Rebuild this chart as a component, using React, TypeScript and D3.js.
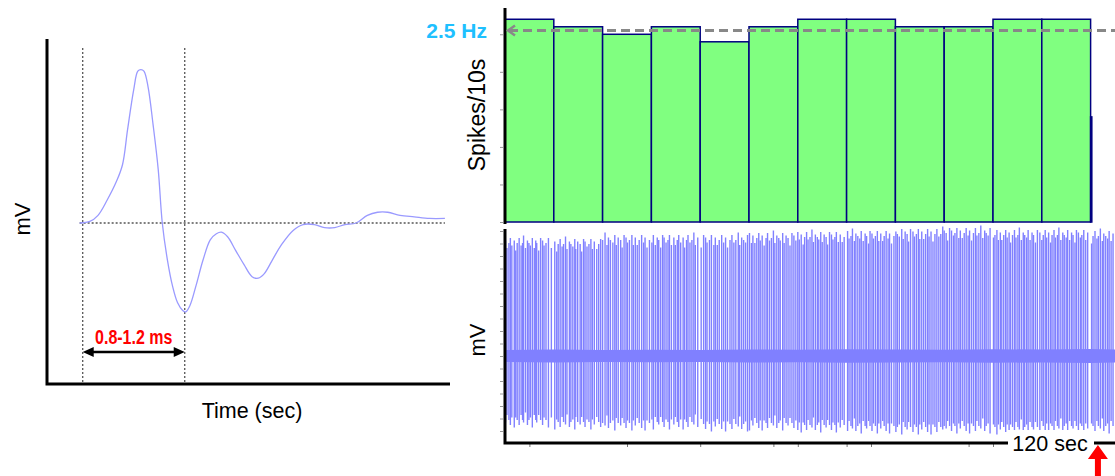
import React, { useEffect, useRef } from "react";
import * as d3 from "d3";

const W = 1115;
const H = 476;
const FONT = "'Liberation Sans', Arial, sans-serif";

// single extracellular spike waveform (time in ms, amplitude in mV)
const waveTime = [-0.03, 0.07, 0.15, 0.24, 0.33, 0.39, 0.44, 0.5, 0.54, 0.57, 0.6, 0.64, 0.69, 0.74, 0.78, 0.83, 0.88, 0.93, 0.98, 1.01, 1.05, 1.11, 1.18, 1.25, 1.31, 1.36, 1.42, 1.5, 1.58, 1.66, 1.72, 1.78, 1.86, 1.95, 2.06, 2.16, 2.27, 2.37, 2.47, 2.57, 2.68, 2.79, 2.89, 2.99, 3.11, 3.25, 3.4, 3.55];
const waveMv = [0, 0.01, 0.05, 0.15, 0.27, 0.38, 0.61, 0.87, 0.99, 1.0, 0.99, 0.89, 0.64, 0.35, 0, -0.24, -0.41, -0.52, -0.57, -0.58, -0.54, -0.41, -0.24, -0.11, -0.07, -0.06, -0.09, -0.18, -0.27, -0.35, -0.36, -0.33, -0.24, -0.14, -0.05, -0.01, -0.01, -0.03, -0.03, -0.01, 0, 0.05, 0.07, 0.07, 0.05, 0.04, 0.03, 0.03];
const widthMarks = [0, 1.0]; // ms, the "0.8-1.2 ms" bracket

// spike counts per 10 s bin (last bin is the partial one at 120 s)
const binStarts = [0, 10, 20, 30, 40, 50, 60, 70, 80, 90, 100, 110, 120];
const binWidths = [10, 10, 10, 10, 10, 10, 10, 10, 10, 10, 10, 10, 0.25];
const binCounts = [27, 26, 25, 26, 24, 26, 27, 27, 26, 26, 27, 27, 14];
const rateLine = 25.5;

// spike times inside each bin (s from bin start)
const spikeTimes = [
  [0.1, 0.4, 0.8, 1.1, 1.4, 1.9, 2.2, 2.5, 2.9, 3.3, 3.6, 3.8, 4.2, 4.6, 4.9, 5.2, 5.6, 6.0, 6.3, 6.5, 6.9, 7.3, 7.7, 8.0, 8.4, 8.9, 9.5],
  [0.2, 0.6, 0.9, 1.3, 1.7, 2.0, 2.4, 2.7, 3.2, 3.5, 3.9, 4.3, 4.5, 4.9, 5.4, 5.7, 6.1, 6.4, 6.8, 7.2, 7.6, 7.9, 8.3, 8.8, 9.2, 9.6],
  [0.0, 0.5, 0.9, 1.2, 1.6, 2.1, 2.5, 2.8, 3.2, 3.7, 4.0, 4.4, 4.8, 5.1, 5.5, 6.0, 6.3, 6.7, 7.1, 7.5, 8.0, 8.4, 8.7, 9.1, 9.6],
  [0.1, 0.4, 0.8, 1.2, 1.5, 1.9, 2.3, 2.6, 3.0, 3.4, 3.7, 4.1, 4.6, 4.9, 5.3, 5.6, 6.0, 6.5, 6.8, 7.2, 7.5, 7.9, 8.3, 8.7, 9.0, 9.5],
  [0.2, 0.7, 1.1, 1.4, 1.9, 2.3, 2.8, 3.1, 3.5, 3.9, 4.4, 4.8, 5.2, 5.6, 6.1, 6.5, 6.9, 7.3, 7.8, 8.1, 8.5, 8.9, 9.3, 9.7],
  [0.1, 0.5, 0.8, 1.2, 1.6, 2.0, 2.3, 2.7, 3.1, 3.5, 3.8, 4.2, 4.6, 5.0, 5.3, 5.7, 6.1, 6.4, 6.9, 7.2, 7.6, 8.0, 8.4, 8.8, 9.2, 9.6],
  [0.0, 0.3, 0.7, 1.1, 1.4, 1.8, 2.1, 2.5, 2.9, 3.2, 3.6, 4.0, 4.3, 4.7, 5.0, 5.4, 5.8, 6.1, 6.5, 6.9, 7.2, 7.6, 7.9, 8.3, 8.7, 9.1, 9.5],
  [0.2, 0.5, 0.9, 1.2, 1.6, 1.9, 2.3, 2.7, 3.0, 3.4, 3.8, 4.1, 4.5, 4.8, 5.2, 5.5, 5.9, 6.3, 6.6, 7.0, 7.4, 7.7, 8.1, 8.5, 8.8, 9.2, 9.7],
  [0.1, 0.4, 0.8, 1.3, 1.6, 2.0, 2.4, 2.7, 3.1, 3.6, 3.9, 4.3, 4.7, 5.0, 5.4, 5.8, 6.2, 6.6, 6.9, 7.3, 7.7, 8.1, 8.5, 8.9, 9.3, 9.7],
  [0.0, 0.4, 0.7, 1.1, 1.5, 1.9, 2.2, 2.6, 3.0, 3.3, 3.7, 4.1, 4.5, 4.9, 5.2, 5.6, 6.0, 6.4, 6.7, 7.1, 7.5, 7.9, 8.3, 8.6, 9.0, 9.4],
  [0.1, 0.4, 0.8, 1.1, 1.5, 1.8, 2.2, 2.6, 2.9, 3.3, 3.6, 4.0, 4.4, 4.7, 5.1, 5.4, 5.8, 6.2, 6.5, 6.9, 7.2, 7.6, 8.0, 8.3, 8.7, 9.1, 9.6],
  [0.0, 0.3, 0.7, 1.0, 1.4, 1.8, 2.1, 2.5, 2.8, 3.2, 3.5, 3.9, 4.3, 4.6, 5.0, 5.3, 5.7, 6.1, 6.4, 6.8, 7.1, 7.5, 7.9, 8.2, 8.6, 9.0, 9.4],
  [0.2, 0.5, 0.9, 1.3, 1.6, 2.0, 2.4, 2.7, 3.1, 3.5, 3.8, 4.2, 4.6],
];
// typical peak / trough per bin (mV)
const spikeUp = [0.452, 0.448, 0.464, 0.464, 0.464, 0.472, 0.476, 0.48, 0.488, 0.492, 0.484, 0.484, 0.48];
const spikeDown = [-0.256, -0.264, -0.268, -0.264, -0.272, -0.268, -0.276, -0.28, -0.284, -0.28, -0.284, -0.28, -0.28];
const upJitter = [0.01, -0.02, 0.0, 0.02, -0.01, 0.01, -0.03, 0.0, 0.02, -0.01, 0.0, 0.03, -0.02, 0.01, 0.0, -0.01, 0.02, -0.02, 0.01, 0.0, -0.03, 0.02, 0.01, -0.01, 0.0, 0.02, -0.02];
const downJitter = [-0.01, 0.02, 0.0, -0.02, 0.01, -0.03, 0.01, 0.0, -0.02, 0.02, 0.0, -0.01, 0.03, -0.02, 0.0, 0.01, -0.03, 0.02, 0.0, -0.01, 0.02, 0.0, -0.02, 0.01, 0.0, -0.03, 0.01];

// baseline noise half-width (mV)
const noiseTime = [0, 10, 20, 30, 40, 50, 60, 70, 80, 90, 100, 110, 120, 125];
const noiseHalf = [0.024, 0.026, 0.024, 0.025, 0.024, 0.026, 0.025, 0.027, 0.026, 0.025, 0.027, 0.026, 0.028, 0.026];

const xTicks = [5, 25, 40, 55, 60, 70, 75, 95, 100];
const endLabel = "120 sec";
const endTime = 121.5;

function App() {
  const svgRef = useRef<SVGSVGElement | null>(null);

  useEffect(() => {
    const svg = d3.select(svgRef.current);
    svg.selectAll("*").remove();

    // ---------- left: spike waveform ----------
    const xW = d3.scaleLinear().domain([-0.35, 3.6]).range([47, 450]);
    const yW = d3.scaleLinear().domain([-1.05, 1.2]).range([384, 39]);
    const left = svg.append("g");

    widthMarks.forEach(t => {
      left.append("line")
        .attr("x1", xW(t)).attr("x2", xW(t))
        .attr("y1", 48).attr("y2", 384)
        .attr("stroke", "#555").attr("stroke-width", 1.3)
        .attr("stroke-dasharray", "2,2");
    });
    left.append("line")
      .attr("x1", xW(-0.03)).attr("x2", xW(3.55))
      .attr("y1", yW(0)).attr("y2", yW(0))
      .attr("stroke", "#555").attr("stroke-width", 1.3)
      .attr("stroke-dasharray", "2,2");

    const wave = d3.line<number>()
      .x((d, i) => xW(waveTime[i]))
      .y(d => yW(d))
      .curve(d3.curveCatmullRom.alpha(0.5));
    left.append("path")
      .attr("d", wave(waveMv))
      .attr("fill", "none")
      .attr("stroke", "#9a9aff")
      .attr("stroke-width", 1.3);

    left.append("path")
      .attr("d", `M47,39V384H450`)
      .attr("fill", "none").attr("stroke", "#000").attr("stroke-width", 3);

    // width bracket
    const ax0 = xW(widthMarks[0]), ax1 = xW(widthMarks[1]), ay = 352;
    left.append("line")
      .attr("x1", ax0 + 6).attr("x2", ax1 - 6).attr("y1", ay).attr("y2", ay)
      .attr("stroke", "#000").attr("stroke-width", 2.5);
    left.append("path")
      .attr("d", `M${ax0},${ay}l11,-5v10z M${ax1},${ay}l-11,-5v10z`)
      .attr("fill", "#000");
    left.append("text")
      .attr("transform", `translate(${(ax0 + ax1) / 2},344) scale(0.82,1)`)
      .attr("text-anchor", "middle")
      .attr("font-family", FONT)
      .attr("font-weight", "bold").attr("font-size", 19.5)
      .attr("fill", "#ff0000")
      .text("0.8-1.2 ms");

    left.append("text")
      .attr("transform", "translate(30,219) rotate(-90)")
      .attr("text-anchor", "middle")
      .attr("font-family", FONT).attr("font-size", 22)
      .text("mV");
    left.append("text")
      .attr("x", 252).attr("y", 418)
      .attr("text-anchor", "middle")
      .attr("font-family", FONT).attr("font-size", 21.5)
      .text("Time (sec)");

    // ---------- right top: spikes per 10 s ----------
    const xT = d3.scaleLinear().domain([0, 125]).range([505, 1115]);
    const yTop = d3.scaleLinear().domain([0, 28.5]).range([222, 8]);
    const top = svg.append("g");

    top.selectAll("rect.bar")
      .data(binCounts)
      .enter()
      .append("rect")
      .attr("class", "bar")
      .attr("x", (d, i) => xT(binStarts[i]))
      .attr("y", d => yTop(d))
      .attr("width", (d, i) => xT(binStarts[i] + binWidths[i]) - xT(binStarts[i]))
      .attr("height", d => yTop(0) - yTop(d))
      .attr("fill", "#80ff80")
      .attr("stroke", "#000080")
      .attr("stroke-width", 1.5);

    const yTopAxis = d3.axisLeft(yTop).ticks(8).tickSize(3).tickFormat(() => "");
    const gyt = top.append("g").attr("transform", "translate(503,0)").call(yTopAxis);
    gyt.select(".domain").remove();
    gyt.selectAll("line").attr("stroke", "#999");
    top.append("line")
      .attr("x1", 505).attr("x2", 505).attr("y1", 8).attr("y2", 224)
      .attr("stroke", "#000").attr("stroke-width", 3);

    const ry = yTop(rateLine);
    top.append("line")
      .attr("x1", 509).attr("x2", 1115).attr("y1", ry).attr("y2", ry)
      .attr("stroke", "#888").attr("stroke-width", 3)
      .attr("stroke-dasharray", "9,5");
    top.append("path")
      .attr("d", `M515,${ry - 5}L508,${ry}L515,${ry + 5}`)
      .attr("fill", "none").attr("stroke", "#888").attr("stroke-width", 2.5);
    top.append("text")
      .attr("x", 487).attr("y", ry + 7.5)
      .attr("text-anchor", "end")
      .attr("font-family", FONT).attr("font-weight", "bold").attr("font-size", 21)
      .attr("fill", "#1ec0ff")
      .text("2.5 Hz");
    top.append("text")
      .attr("transform", "translate(485,115) rotate(-90)")
      .attr("text-anchor", "middle")
      .attr("font-family", FONT).attr("font-size", 23)
      .text("Spikes/10s");

    // ---------- right bottom: raw trace ----------
    const yBot = d3.scaleLinear().domain([-0.348, 0.52]).range([443, 226]);
    const bot = svg.append("g");

    const noise = d3.area<number>()
      .x((d, i) => xT(noiseTime[i]))
      .y0(d => yBot(-d))
      .y1(d => yBot(d));
    bot.append("path")
      .attr("d", noise(noiseHalf))
      .attr("fill", "#8080ff");

    const spikes: { t: number; up: number; down: number }[] = [];
    spikeTimes.forEach((bin, b) => {
      bin.forEach((s, i) => {
        const j = (i + b * 5) % upJitter.length;
        spikes.push({
          t: binStarts[b] + s,
          up: spikeUp[b] + upJitter[j],
          down: spikeDown[b] + downJitter[j],
        });
      });
    });
    bot.selectAll("line.spike")
      .data(spikes)
      .enter()
      .append("line")
      .attr("class", "spike")
      .attr("x1", d => xT(d.t)).attr("x2", d => xT(d.t))
      .attr("y1", d => yBot(d.up)).attr("y2", d => yBot(d.down))
      .attr("stroke", "#8080ff")
      .attr("stroke-width", 1.4);

    const yBotAxis = d3.axisLeft(yBot).ticks(16).tickSize(3).tickFormat(() => "");
    const gyb = bot.append("g").attr("transform", "translate(503,0)").call(yBotAxis);
    gyb.select(".domain").remove();
    gyb.selectAll("line").attr("stroke", "#999");

    const xBotAxis = d3.axisBottom(xT).tickValues(xTicks).tickSize(3).tickFormat(() => "");
    const gxb = bot.append("g").attr("transform", "translate(0,444)").call(xBotAxis);
    gxb.select(".domain").remove();
    gxb.selectAll("line").attr("stroke", "#777");

    bot.append("path")
      .attr("d", `M505,229V443H1115`)
      .attr("fill", "none").attr("stroke", "#000").attr("stroke-width", 3);

    bot.append("text")
      .attr("transform", "translate(485,340) rotate(-90)")
      .attr("text-anchor", "middle")
      .attr("font-family", FONT).attr("font-size", 22)
      .text("mV");

    bot.append("rect")
      .attr("x", 1008).attr("y", 430).attr("width", 86).attr("height", 26)
      .attr("fill", "#fff");
    bot.append("text")
      .attr("x", 1050).attr("y", 451)
      .attr("text-anchor", "middle")
      .attr("font-family", FONT).attr("font-size", 21.5)
      .text(endLabel);

    const ex = xT(endTime);
    bot.append("path")
      .attr("d", `M${ex},445L${ex + 10},459H${ex + 3}V476H${ex - 3}V459H${ex - 10}Z`)
      .attr("fill", "#ff0000");
  }, []);

  return (
    <svg
      ref={svgRef}
      width={W}
      height={H}
      style={{ position: "absolute", left: 0, top: 0, background: "#fff" }}
    />
  );
}

export default App;
